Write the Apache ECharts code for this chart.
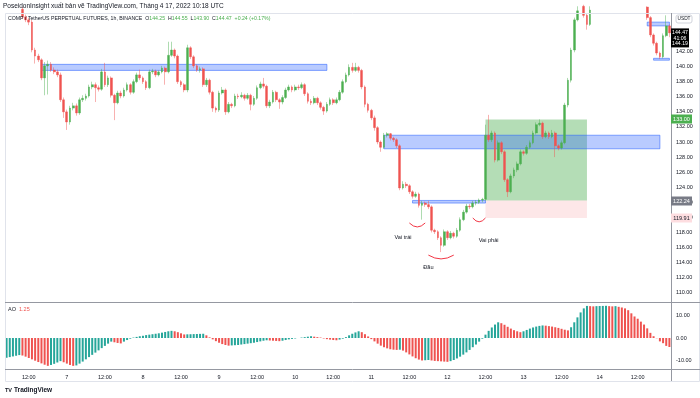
<!DOCTYPE html>
<html>
<head>
<meta charset="utf-8">
<script src="https://cdn.jsdelivr.net/npm/echarts@6/dist/echarts.min.js"></script>
<style>
  html, body { margin: 0; padding: 0; background: #fff; }
  #chart { width: 700px; height: 398px; }
</style>
</head>
<body>
<div id="chart"></div>
<script>
// COMP/USDT 1h, candles from 6 Apr 05:00 (hour 5) to 14 Apr 22:00 (hour 214)
const firstHour = 5;
const firstOpen = 150.2;

const closes = [
  149.6, 149.0, 148.7, 148.3, 147.6, 146.6, 146.2, 145.9, 142.2, 141.4,
  140.9, 138.5, 140.1, 140.3, 139.55, 139.3, 138.9, 135.6, 134.0, 132.65,
  134.5, 134.8, 133.85, 135.6, 135.8, 136.1, 137.3, 137.6, 137.2, 137.0,
  139.3, 137.6, 138.5, 136.2, 135.2, 136.5, 136.1, 136.9, 137.6, 136.6,
  138.0, 138.9, 138.5, 138.0, 137.2, 139.3, 139.4, 138.9, 139.3, 139.8,
  139.3, 141.5, 142.2, 141.4, 138.0, 137.6, 136.9, 142.5, 141.3, 140.1,
  139.55, 139.7, 137.6, 138.2, 136.6, 134.5, 134.24, 136.5, 136.9, 134.0,
  135.0, 134.8, 136.1, 136.0, 136.2, 135.8, 136.2, 135.0, 135.8, 137.2,
  137.7, 137.4, 134.8, 135.3, 136.6, 135.6, 135.3, 135.9, 136.9, 137.3,
  136.9, 137.3, 137.2, 137.6, 136.4, 135.4, 135.2, 135.8, 135.2, 134.6,
  134.1, 135.0, 135.6, 135.2, 135.6, 136.6, 138.0, 138.9, 139.9, 139.5,
  139.9, 139.5, 137.3, 135.0, 134.2, 133.2, 131.9, 130.0, 129.3, 130.9,
  131.1, 130.5, 130.3, 129.5, 123.9, 124.4, 124.2, 123.4, 122.8, 123.1,
  121.6, 121.9, 121.7, 121.4, 118.3, 118.1, 117.3, 116.3, 118.1, 117.3,
  117.9, 117.5, 118.3, 119.7, 120.7, 121.5, 121.4, 121.9, 122.0, 122.3,
  122.4, 130.9, 130.3, 131.2, 127.6, 129.9, 128.7, 125.0, 123.4, 125.5,
  126.3, 127.1, 128.7, 128.5, 129.3, 129.9, 131.2, 132.3, 132.5, 130.7,
  131.2, 130.7, 131.2, 129.5, 129.2, 129.9, 134.9, 138.2, 142.2, 146.2,
  147.4, 148.0, 146.8, 145.6, 147.5, 148.4, 149.2, 150.0, 150.8, 151.2,
  150.6, 150.2, 150.9, 150.3, 149.8, 149.4, 149.0, 148.8, 148.5, 148.6,
  148.3, 147.9, 146.5, 144.2, 143.1, 141.8, 141.3, 144.1, 145.4, 144.47
];

const highs = [
  150.5, 149.9, 149.3, 149.0, 148.6, 147.9, 146.9, 146.5, 146.2, 142.5,
  141.7, 141.1, 140.6, 140.8, 140.6, 139.9, 139.6, 139.2, 135.9, 134.3,
  134.8, 135.2, 135.1, 135.9, 136.2, 136.4, 137.6, 138.0, 137.9, 137.5,
  139.7, 140.5, 138.8, 138.7, 136.4, 136.8, 136.8, 137.2, 137.9, 137.8,
  138.3, 139.2, 139.6, 138.7, 138.2, 139.6, 139.7, 139.6, 139.5, 140.1,
  140.0, 143.3, 143.3, 142.4, 141.6, 138.2, 137.8, 142.9, 142.7, 141.5,
  140.3, 140.0, 139.9, 138.5, 138.4, 136.8, 134.7, 136.8, 137.3, 137.1,
  135.3, 135.2, 136.4, 136.4, 136.6, 136.4, 136.5, 136.4, 136.1, 137.5,
  138.0, 138.5, 137.6, 135.6, 136.9, 136.8, 135.8, 136.2, 137.2, 137.6,
  137.5, 137.6, 137.6, 137.9, 137.8, 136.6, 135.7, 136.1, 136.0, 135.4,
  134.8, 135.3, 135.9, 135.8, 135.9, 136.9, 138.3, 139.2, 140.3, 140.5,
  140.5, 140.1, 139.7, 137.5, 135.2, 134.4, 133.5, 132.1, 130.2, 131.2,
  131.3, 131.2, 130.7, 130.5, 129.7, 124.8, 124.7, 124.4, 123.6, 123.4,
  123.3, 122.2, 122.1, 122.2, 121.6, 118.5, 118.3, 117.5, 118.4, 118.3,
  118.2, 118.1, 118.6, 120.0, 121.0, 121.8, 121.8, 122.2, 122.3, 122.5,
  122.6, 132.3, 133.6, 131.5, 131.4, 130.2, 130.1, 128.9, 125.2, 125.8,
  126.6, 127.4, 129.0, 128.9, 129.6, 130.2, 131.5, 132.6, 133.0, 132.7,
  131.5, 131.4, 131.6, 131.4, 129.7, 130.2, 135.2, 138.5, 142.5, 146.5,
  148.0, 148.6, 148.2, 147.0, 148.0, 148.9, 149.7, 150.6, 151.3, 151.8,
  151.5, 150.9, 151.3, 151.1, 150.5, 150.0, 149.6, 149.3, 149.1, 149.0,
  148.8, 148.5, 148.0, 146.7, 144.4, 143.3, 142.0, 144.4, 146.8, 145.6
];

const lows = [
  149.3, 148.7, 148.4, 148.0, 147.3, 146.3, 145.9, 145.5, 141.9, 140.4,
  140.6, 138.2, 136.2, 136.3, 139.3, 139.0, 138.6, 135.3, 133.2, 131.6,
  132.3, 134.2, 133.5, 133.6, 135.3, 135.5, 135.9, 137.0, 135.3, 136.7,
  136.8, 137.3, 137.3, 135.9, 132.9, 135.0, 135.8, 135.9, 136.7, 136.3,
  136.4, 137.8, 138.2, 137.7, 136.9, 137.0, 139.0, 138.6, 138.7, 139.1,
  137.6, 139.1, 141.3, 141.1, 137.7, 137.3, 136.6, 136.6, 141.0, 139.8,
  139.3, 139.2, 137.3, 137.3, 136.3, 134.0, 133.9, 134.0, 136.3, 133.6,
  133.8, 134.5, 134.6, 135.7, 135.8, 135.5, 135.6, 134.2, 134.8, 135.6,
  137.0, 137.1, 134.5, 134.5, 135.1, 135.3, 134.4, 135.0, 135.7, 136.7,
  136.6, 136.7, 136.9, 137.0, 136.1, 135.1, 134.9, 135.0, 134.9, 134.3,
  133.6, 133.9, 134.8, 134.9, 135.0, 135.4, 136.4, 137.8, 138.7, 139.2,
  139.3, 139.2, 137.0, 134.6, 133.9, 132.9, 131.5, 129.7, 128.7, 129.1,
  130.6, 130.2, 130.0, 129.2, 123.6, 123.7, 123.9, 123.1, 122.5, 122.6,
  121.3, 119.7, 121.4, 121.1, 118.0, 117.8, 117.0, 115.4, 116.1, 117.0,
  117.1, 117.2, 117.3, 118.1, 119.5, 120.5, 121.1, 121.2, 121.6, 121.8,
  122.0, 122.2, 130.0, 130.0, 127.3, 127.4, 128.4, 124.7, 122.7, 123.2,
  125.2, 126.0, 126.9, 128.2, 128.3, 129.1, 129.7, 131.0, 132.1, 130.4,
  130.5, 130.4, 130.5, 128.0, 128.9, 129.0, 129.7, 134.6, 137.9, 141.9,
  146.0, 147.3, 146.5, 144.9, 145.4, 147.4, 148.2, 149.0, 149.8, 150.5,
  150.2, 149.8, 150.0, 149.9, 149.4, 149.0, 148.6, 148.3, 148.1, 148.2,
  147.9, 147.6, 146.2, 143.9, 142.8, 141.5, 141.0, 141.1, 143.9, 143.9
];

// Awesome Oscillator, one value per candle
const aoValues = [
  -8.8, -8.5, -8.2, -7.9, -7.6,
  -7.8, -8.3, -8.9, -9.5, -10.1, -10.7, -11.3, -11.9, -12.4,
  -12.0, -11.5, -10.9, -10.3,
  -10.8, -11.4, -12.0, -12.4,
  -12.2, -11.4, -10.5, -9.5, -8.5, -7.5, -6.5, -5.5, -4.5, -3.5, -2.5, -1.6,
  -1.9, -2.2, -2.4,
  -1.6, -0.9, -0.3,
  0.2, 0.5, 0.8, 1.0, 1.3, 1.5, 1.7, 1.9, 2.1, 2.4, 2.7, 3.0, 3.2,
  3.0, 2.6, 2.1, 1.6,
  1.65, 1.7, 1.75, 1.8, 1.85, 1.9,
  1.2, 0.3, -0.6, -1.4, -2.1, -2.7, -3.1, -3.4,
  -3.3, -3.2, -3.1, -2.9, -2.7, -2.5, -2.3, -2.1, -1.8, -1.5, -1.2, -1.0,
  -1.1, -1.2, -1.3, -1.4,
  -1.2, -0.9, -0.6, -0.4, -0.2, 0.0, 0.2, 0.4, 0.6, 0.8,
  0.6, 0.4,
  0.2, -0.2, -0.5, -0.7, -0.9, -1.0, -0.7,
  -0.3, 0.4, 1.2, 1.9, 2.5, 3.0,
  2.6, 1.7, 0.7,
  -0.5, -1.5, -2.5, -3.4, -4.1, -4.6, -5.0, -5.2, -5.3,
  -5.2,
  -5.6, -6.4, -7.3, -8.2, -9.0, -9.6, -10.0,
  -9.9, -9.8,
  -10.0, -10.2, -10.3, -10.4, -10.5, -10.6,
  -10.3, -9.8, -9.1, -8.3, -7.4, -6.4, -5.3, -4.1, -2.9, -1.6, -0.3,
  1.5, 3.2, 4.7, 6.0, 7.0,
  6.6, 5.9, 5.0, 4.2, 3.5, 3.0, 2.6,
  3.0, 3.6, 4.2, 4.7, 5.1, 5.4, 5.6,
  5.5, 5.3, 5.1, 4.8, 4.5, 4.1, 3.7, 3.4,
  4.8, 7.0, 9.2, 11.4, 13.2, 14.3,
  14.2, 14.1, 14.2, 14.25, 14.3, 14.35, 14.2, 14.1, 14.2,
  13.9, 13.6, 13.2, 12.4, 11.0, 9.6, 8.6, 7.3, 6.0, 4.3, 2.3, 0.8, -0.1, -1.5, -2.3, -3.5, -4.0
];

// one label every 12 hours, starting at 6 Apr 12:00
const timeLabels = ['12:00', '7', '12:00', '8', '12:00', '9', '12:00', '10', '12:00',
  '11', '12:00', '12', '12:00', '13', '12:00', '14', '12:00'];
const priceTicks = [110, 112, 114, 116, 118, 120, 122, 124, 126, 128, 130, 132, 134, 136, 138, 140, 142];
const aoTicks = [-10, 0, 10];

// drawings on the chart: hours and prices
const zones = [
  { kind: 'green', from: 156, to: 188, top: 133.0, bottom: 122.24 },
  { kind: 'pink', from: 156, to: 188, top: 122.24, bottom: 119.91 },
  { kind: 'blue', from: 16, to: 106, top: 140.3, bottom: 139.5 },
  { kind: 'blue', from: 124, to: 211, top: 130.9, bottom: 129.1 },
  { kind: 'blue', from: 133, to: 156, top: 122.25, bottom: 121.9 },
  { kind: 'blue', from: 207, to: 214, top: 145.9, bottom: 145.4 },
  { kind: 'blue', from: 209, to: 214, top: 141.1, bottom: 140.85 }
];
const arcs = [
  { from: 132, to: 137, price: 119.26, bend: -0.5 },
  { from: 138, to: 146, price: 115.0, bend: -0.3 },
  { from: 152, to: 156, price: 119.92, bend: -0.6 }
];
const notes = [
  { text: 'Vai trái', hour: 130, price: 117.3 },
  { text: 'Đầu', hour: 138, price: 113.3 },
  { text: 'Vai phải', hour: 157, price: 116.9 }
];

const FONT = '"Liberation Sans", Arial, sans-serif';
const UP = '#4caf50', DOWN = '#ef5350';
const AO_UP = '#26a69a', AO_DOWN = '#ef5350';
const zoneStyle = {
  green: { color: 'rgba(76,175,80,0.42)' },
  pink: { color: 'rgba(242,54,69,0.12)' },
  blue: { color: 'rgba(41,98,255,0.33)', borderColor: 'rgba(41,98,255,0.55)', borderWidth: 1 }
};

const hours = closes.map((c, i) => String(firstHour + i));
const opens = closes.map((c, i) => (i === 0 ? firstOpen : closes[i - 1]));
const wickData = closes.map((c, i) => [opens[i], c, lows[i], highs[i]]);
const bodyData = closes.map((c, i) => [opens[i], c, Math.min(opens[i], c), Math.max(opens[i], c)]);
const aoData = aoValues.map((v, i) => ({
  value: v,
  itemStyle: { color: i === 0 || v > aoValues[i - 1] ? AO_UP : AO_DOWN }
}));

const chart = echarts.init(document.getElementById('chart'));

const axisText = { fontSize: 5.5, color: '#131722', fontFamily: FONT };

chart.setOption({
  animation: false,
  backgroundColor: '#fff',
  grid: [
    { left: 5, right: 29, top: 13, height: 289 },
    { left: 5, right: 29, top: 303, height: 66 }
  ],
  xAxis: [
    {
      type: 'category', gridIndex: 0, data: hours,
      axisLine: { show: false }, axisTick: { show: false }, axisLabel: { show: false }
    },
    {
      type: 'category', gridIndex: 1, data: hours,
      axisLine: { show: false }, axisTick: { show: false },
      axisLabel: {
        ...axisText, margin: 5,
        interval: (i, v) => Number(v) % 12 === 0,
        formatter: v => timeLabels[Number(v) / 12 - 1]
      }
    }
  ],
  yAxis: [
    {
      type: 'value', gridIndex: 0, position: 'right', min: 108.78, max: 147.11,
      splitLine: { show: false }, axisTick: { show: false },
      axisLine: { show: false },
      axisLabel: { ...axisText, margin: 5, customValues: priceTicks, formatter: v => v.toFixed(2) }
    },
    {
      type: 'value', gridIndex: 1, position: 'right', min: -13.8, max: 15.6,
      splitLine: { show: false }, axisTick: { show: false },
      axisLine: { show: false },
      axisLabel: { ...axisText, margin: 5, customValues: aoTicks, formatter: v => v.toFixed(2) }
    }
  ],
  series: [
    {
      name: 'wicks', type: 'candlestick', xAxisIndex: 0, yAxisIndex: 0,
      data: wickData, barWidth: 1, silent: true, clip: true,
      itemStyle: {
        color: 'rgba(76,175,80,0.45)', color0: 'rgba(239,83,80,0.45)',
        borderColor: 'rgba(76,175,80,0.45)', borderColor0: 'rgba(239,83,80,0.45)', borderWidth: 1
      }
    },
    {
      name: 'bodies', type: 'candlestick', xAxisIndex: 0, yAxisIndex: 0,
      data: bodyData, barWidth: 2.2, silent: true, clip: true,
      itemStyle: { color: UP, color0: DOWN, borderColor: UP, borderColor0: DOWN, borderWidth: 0.4 }
    },
    {
      name: 'zones', type: 'line', xAxisIndex: 0, yAxisIndex: 0, data: [], z: 3, silent: true,
      markArea: {
        silent: true,
        label: { show: false },
        data: zones.map(z => [
          { xAxis: z.from - firstHour, yAxis: z.top, itemStyle: zoneStyle[z.kind] },
          { xAxis: z.to - firstHour, yAxis: z.bottom }
        ])
      }
    },
    {
      name: 'arcs', type: 'lines', coordinateSystem: 'cartesian2d', xAxisIndex: 0, yAxisIndex: 0,
      z: 4, silent: true,
      lineStyle: { color: '#f23645', width: 1, opacity: 1 },
      data: arcs.map(a => ({
        coords: [[a.from - firstHour, a.price], [a.to - firstHour, a.price]],
        lineStyle: { curveness: a.bend }
      }))
    },
    {
      name: 'AO', type: 'bar', xAxisIndex: 1, yAxisIndex: 1,
      data: aoData, barWidth: 2, silent: true
    }
  ]
});

// pixel helpers through the chart's own scales
const py = p => chart.convertToPixel({ yAxisIndex: 0 }, p);
const pt = (h, p) => chart.convertToPixel({ gridIndex: 0 }, [h - firstHour, p]);

function txt(x, y, text, size, color, align, weight) {
  return {
    type: 'text', x, y, z: 100, silent: true,
    style: {
      text, fill: color, font: (weight ? weight + ' ' : '') + size + 'px ' + FONT,
      align: align || 'left', verticalAlign: 'middle',
      textAlign: align || 'left', textVerticalAlign: 'middle'
    }
  };
}
function line(x1, y1, x2, y2, color) {
  return {
    type: 'line', z: 90, silent: true,
    shape: { x1, y1, x2, y2 }, style: { stroke: color, lineWidth: 1 }
  };
}
function tag(y, text, bg, fg, stroke) {
  return [
    { type: 'rect', z: 100, silent: true, shape: { x: 671, y: Math.round(y) - 4.5, width: 21, height: 9 },
      style: { fill: bg, stroke: stroke || null } },
    txt(681.5, Math.round(y), text, 5.5, fg, 'center')
  ];
}

const lastY = py(144.47);
const graphics = [
  // frame and pane separators
  { type: 'rect', z: 80, silent: true, shape: { x: 5.5, y: 13.5, width: 694, height: 368 },
    style: { fill: null, stroke: '#e0e3eb', lineWidth: 1 } },
  line(5, 302.5, 700, 302.5, '#9598a1'),
  line(5, 369.5, 700, 369.5, '#9598a1'),
  line(671.5, 13, 671.5, 381, '#9598a1'),

  // titles
  txt(3, 6, 'PoseidonInsight xuất bản vẽ TradingView.com, Tháng 4 17, 2022 10:18 UTC', 6.5, '#131722'),
  {
    type: 'text', x: 8, y: 19, z: 100, silent: true,
    style: {
      text: '{d|COMP / TetherUS PERPETUAL FUTURES, 1h, BINANCE}  {d|O}{g|144.25}  {d|H}{g|144.55}  {d|L}{g|143.90}  {d|C}{g|144.47}  {g|+0.24 (+0.17%)}',
      font: '5.2px ' + FONT, verticalAlign: 'middle', textVerticalAlign: 'middle',
      rich: {
        d: { fill: '#131722', color: '#131722', fontSize: 5.2, fontFamily: FONT },
        g: { fill: '#4caf50', color: '#4caf50', fontSize: 5.2, fontFamily: FONT }
      }
    }
  },
  {
    type: 'text', x: 8, y: 309, z: 100, silent: true,
    style: {
      text: '{d|AO}  {r|1.25}', font: '5.5px ' + FONT, verticalAlign: 'middle', textVerticalAlign: 'middle',
      rich: {
        d: { fill: '#131722', color: '#131722', fontSize: 5.5, fontFamily: FONT },
        r: { fill: '#ef5350', color: '#ef5350', fontSize: 5.5, fontFamily: FONT }
      }
    }
  },

  // footer
  txt(5, 390, 'TV', 5.5, '#131722', 'left', 'bold'),
  txt(14, 390, 'TradingView', 6.5, '#131722', 'left', '600'),

  // price scale tags
  { type: 'rect', z: 100, silent: true, shape: { x: 676, y: 15, width: 16, height: 8, r: 2 },
    style: { fill: '#fff', stroke: '#d1d4dc' } },
  txt(684, 19, 'USDT', 4.8, '#131722', 'center'),
  { type: 'rect', z: 100, silent: true, shape: { x: 671, y: lastY - 4.5, width: 18, height: 19 },
    style: { fill: '#000' } },
  txt(680, lastY, '144.47', 5.2, '#fff', 'center'),
  txt(680, lastY + 5.5, '41:06', 5.2, '#fff', 'center'),
  txt(680, lastY + 11, '144.19', 5.2, '#fff', 'center'),
  ...tag(py(133.0), '133.00', '#4caf50', '#fff'),
  ...tag(py(122.24), '122.24', '#787b86', '#fff'),
  ...tag(py(119.91), '119.91', '#fddde0', '#131722')
];

notes.forEach(n => {
  const p = pt(n.hour, n.price);
  graphics.push(txt(p[0], p[1], n.text, 5.6, '#131722', 'center'));
});

chart.setOption({ graphic: graphics });
</script>
</body>
</html>
